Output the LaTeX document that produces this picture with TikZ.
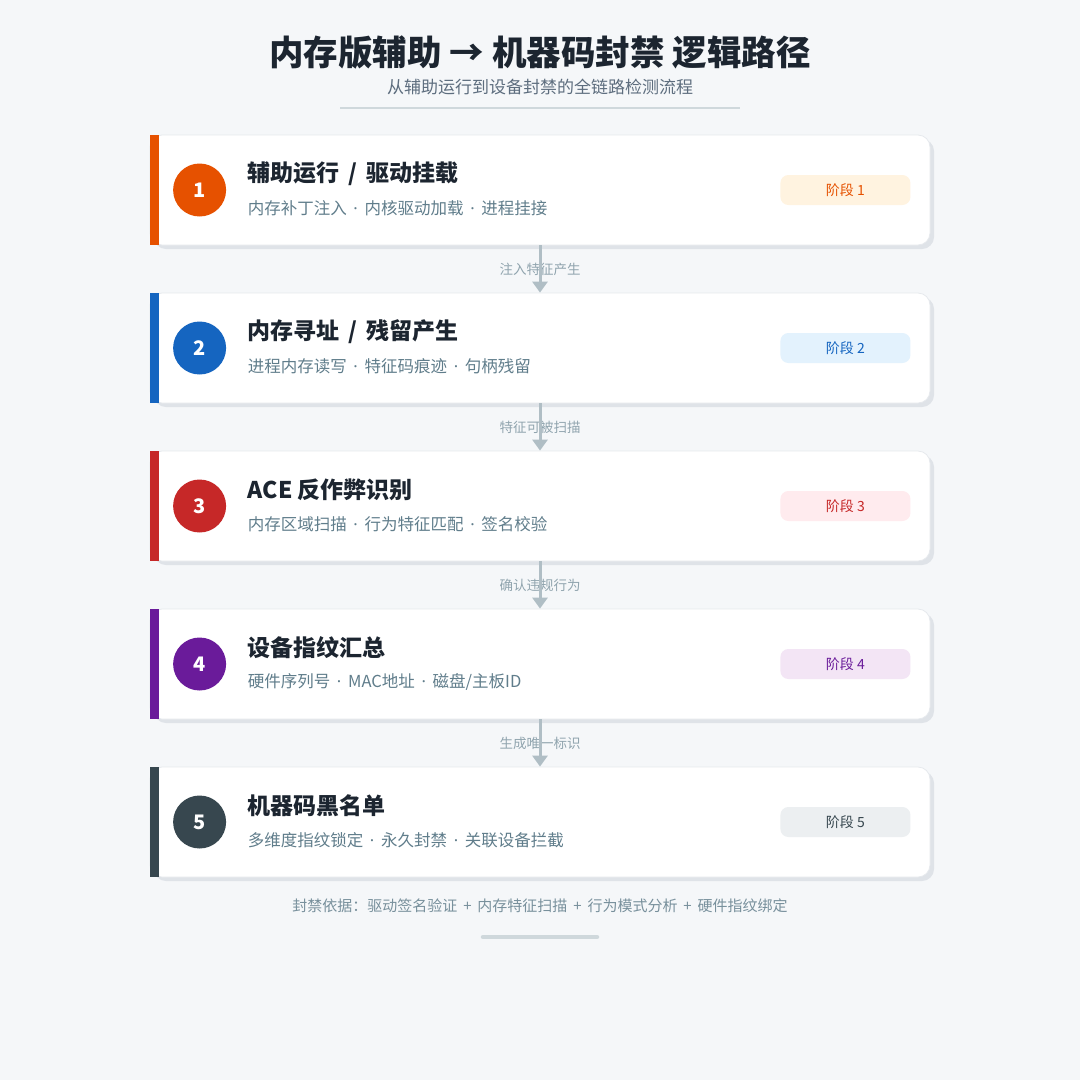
\documentclass[tikz,border=0pt]{standalone}
\usepackage{fontspec}
\setmainfont{Noto Sans CJK SC}
\newfontfamily\latinfont{Noto Sans}
\newcommand{\dotsep}{\hspace{3pt} {\latinfont ·} \hspace{3pt}}
\usepackage{xcolor}
\usetikzlibrary{calc,arrows.meta,positioning}

\definecolor{pagebg}{HTML}{F5F7F9}
\definecolor{ink}{HTML}{1C2530}
\definecolor{subink}{HTML}{5D6D7E}
\definecolor{descgray}{HTML}{607D8B}
\definecolor{flowgray}{HTML}{B0BEC5}
\definecolor{flowtext}{HTML}{90A4AE}
\definecolor{footgray}{HTML}{78909C}
\definecolor{rulegray}{HTML}{CFD8DC}
\definecolor{cardline}{HTML}{E6E9ED}
\definecolor{cardshadow}{HTML}{DFE3E8}
\definecolor{stageA}{HTML}{E65100}
\definecolor{stageAbg}{HTML}{FFF3E0}
\definecolor{stageB}{HTML}{1565C0}
\definecolor{stageBbg}{HTML}{E3F2FD}
\definecolor{stageC}{HTML}{C62828}
\definecolor{stageCbg}{HTML}{FFEBEE}
\definecolor{stageD}{HTML}{6A1B9A}
\definecolor{stageDbg}{HTML}{F3E5F5}
\definecolor{stageE}{HTML}{37474F}
\definecolor{stageEbg}{HTML}{ECEFF1}

\begin{document}
\begin{tikzpicture}[x=1pt, y=-1pt, every node/.style={inner sep=0pt},
    card/.style={draw=cardline, line width=0.8pt, fill=white, rounded corners=12pt,
        minimum width=780pt, minimum height=110pt,
        preaction={fill=cardshadow, transform canvas={xshift=4pt, yshift=-4pt}}},
    num/.style={circle, minimum size=53pt, text=white, font=\fontsize{20}{24}\selectfont\bfseries},
    head/.style={anchor=west, text=ink, font=\fontsize{23}{27}\selectfont\bfseries},
    desc/.style={anchor=west, text=descgray, font=\fontsize{16.5}{20}\selectfont},
    badge/.style={rounded corners=8pt, minimum width=130pt, minimum height=30pt, font=\fontsize{14}{17}\selectfont},
    flowlabel/.style={text=flowtext, font=\fontsize{13.5}{16}\selectfont},
    flow/.style={flowgray, line width=3pt, -{Triangle[width=15pt, length=11pt]}}]

% Page
\fill[pagebg] (0,0) rectangle (1080,1080);
\useasboundingbox (0,0) rectangle (1080,1080);

% Header
\node[text=ink, font=\fontsize{34.5}{40}\selectfont\bfseries] (title) at (540,52) {内存版辅助 → 机器码封禁 逻辑路径};
\node[text=subink, font=\fontsize{17}{20}\selectfont] (subtitle) at (540,87) {从辅助运行到设备封禁的全链路检测流程};
\draw[rulegray, line width=2pt] (340,108) -- (740,108);

% Stage 1
\node[card] (c1) at (540,190) {};
\fill[stageA] (c1.north west) rectangle ([xshift=9pt]c1.south west);
\node[num, fill=stageA] (n1) at ([xshift=50pt]c1.west) {1};
\node[head] (t1) at ([xshift=98pt, yshift=16pt]c1.west) {辅助运行 \,/\, 驱动挂载};
\node[desc] (d1) at ([xshift=98pt, yshift=-18pt]c1.west) {内存补丁注入\dotsep 内核驱动加载\dotsep 进程挂接};
\node[badge, fill=stageAbg, text=stageA] (b1) at ([xshift=-85pt]c1.east) {阶段 1};

% Stage 2
\node[card] (c2) at (540,348) {};
\fill[stageB] (c2.north west) rectangle ([xshift=9pt]c2.south west);
\node[num, fill=stageB] (n2) at ([xshift=50pt]c2.west) {2};
\node[head] (t2) at ([xshift=98pt, yshift=16pt]c2.west) {内存寻址 \,/\, 残留产生};
\node[desc] (d2) at ([xshift=98pt, yshift=-18pt]c2.west) {进程内存读写\dotsep 特征码痕迹\dotsep 句柄残留};
\node[badge, fill=stageBbg, text=stageB] (b2) at ([xshift=-85pt]c2.east) {阶段 2};

% Stage 3
\node[card] (c3) at (540,506) {};
\fill[stageC] (c3.north west) rectangle ([xshift=9pt]c3.south west);
\node[num, fill=stageC] (n3) at ([xshift=50pt]c3.west) {3};
\node[head] (t3) at ([xshift=98pt, yshift=16pt]c3.west) {ACE 反作弊识别};
\node[desc] (d3) at ([xshift=98pt, yshift=-18pt]c3.west) {内存区域扫描\dotsep 行为特征匹配\dotsep 签名校验};
\node[badge, fill=stageCbg, text=stageC] (b3) at ([xshift=-85pt]c3.east) {阶段 3};

% Stage 4
\node[card] (c4) at (540,664) {};
\fill[stageD] (c4.north west) rectangle ([xshift=9pt]c4.south west);
\node[num, fill=stageD] (n4) at ([xshift=50pt]c4.west) {4};
\node[head] (t4) at ([xshift=98pt, yshift=16pt]c4.west) {设备指纹汇总};
\node[desc] (d4) at ([xshift=98pt, yshift=-18pt]c4.west) {硬件序列号\dotsep MAC地址\dotsep 磁盘/主板ID};
\node[badge, fill=stageDbg, text=stageD] (b4) at ([xshift=-85pt]c4.east) {阶段 4};

% Stage 5
\node[card] (c5) at (540,822) {};
\fill[stageE] (c5.north west) rectangle ([xshift=9pt]c5.south west);
\node[num, fill=stageE] (n5) at ([xshift=50pt]c5.west) {5};
\node[head] (t5) at ([xshift=98pt, yshift=16pt]c5.west) {机器码黑名单};
\node[desc] (d5) at ([xshift=98pt, yshift=-18pt]c5.west) {多维度指纹锁定\dotsep 永久封禁\dotsep 关联设备拦截};
\node[badge, fill=stageEbg, text=stageE] (b5) at ([xshift=-85pt]c5.east) {阶段 5};

% Connectors
\node[flowlabel] (l1) at ($(c1.south)!0.5!(c2.north)$) {注入特征产生};
\node[flowlabel] (l2) at ($(c2.south)!0.5!(c3.north)$) {特征可被扫描};
\node[flowlabel] (l3) at ($(c3.south)!0.5!(c4.north)$) {确认违规行为};
\node[flowlabel] (l4) at ($(c4.south)!0.5!(c5.north)$) {生成唯一标识};
\draw[flow] (c1.south) -- (c2.north);
\draw[flow] (c2.south) -- (c3.north);
\draw[flow] (c3.south) -- (c4.north);
\draw[flow] (c4.south) -- (c5.north);

% Footer
\node[text=footgray, font=\fontsize{15}{18}\selectfont] (foot) at (540,906) {封禁依据：驱动签名验证 \,+\, 内存特征扫描 \,+\, 行为模式分析 \,+\, 硬件指纹绑定};
\draw[rulegray, line width=4.5pt, line cap=round] (483,937) -- (597,937);

\end{tikzpicture}
\end{document}
